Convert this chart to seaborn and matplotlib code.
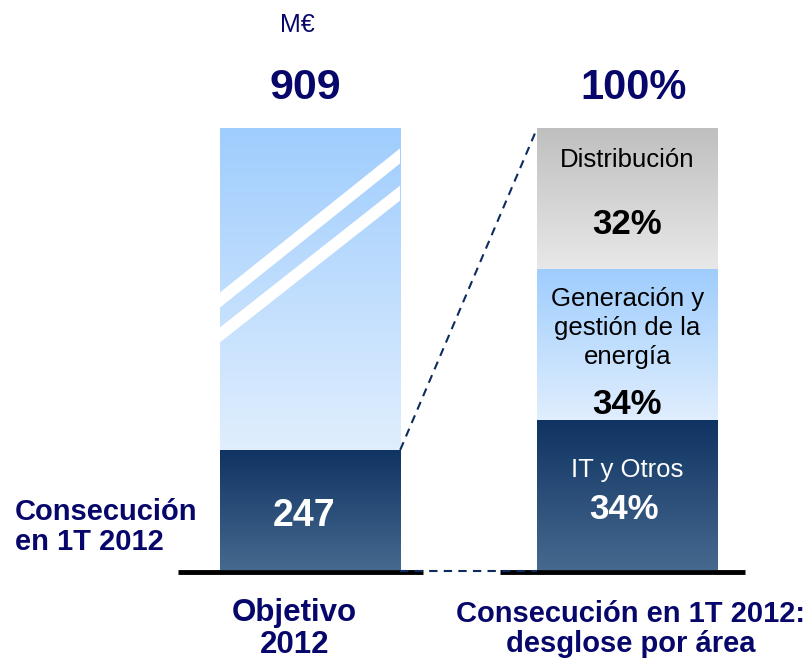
import numpy as np
import matplotlib
matplotlib.use("Agg")
import matplotlib.pyplot as plt
import seaborn as sns
from matplotlib.colors import LinearSegmentedColormap
from matplotlib.patches import Rectangle

# data
barras = ["Objetivo\n2012", "Consecución en 1T 2012:\ndesglose por área"]
objetivo_2012 = 909
consecucion_1t = 247
areas = ["IT y Otros", "Generación y\ngestión de la\nenergía", "Distribución"]
area_pct = [34, 34, 32]

logro_pct = consecucion_1t / objetivo_2012 * 100
# segments bottom -> top for each bar (in % of bar height)
left_seg = [logro_pct, 100 - logro_pct]
right_seg = area_pct

navy = "#07076b"
dark_grad = ("#0f3362", "#46698f")
blue_grad = ("#9fcdfe", "#e0eefd")
grey_grad = ("#bfbfbf", "#e8e8e8")
left_cols = [dark_grad, blue_grad]
right_cols = [dark_grad, blue_grad, grey_grad]

sns.set_style("white")
plt.rcParams["font.family"] = ["Liberation Sans", "DejaVu Sans"]
plt.rcParams["text.color"] = "black"

fig = plt.figure(figsize=(8.1, 6.65), dpi=100)
ax = fig.add_axes([0, 0.1429, 1, 0.6647])

# stacked bars: draw cumulative tops, tallest first
left_tops = np.cumsum(left_seg)
right_tops = np.cumsum(right_seg)
n_layers = max(len(left_tops), len(right_tops))
bw = 0.568
for k in range(n_layers - 1, -1, -1):
    h = [left_tops[k] if k < len(left_tops) else 0,
         right_tops[k] if k < len(right_tops) else 0]
    sns.barplot(x=barras, y=h, width=bw, color="#cccccc", ax=ax,
                linewidth=0, saturation=1)

# gradient fills over each segment
xs = {}
for p in ax.patches:
    if p.get_height() > 0:
        xs[round(p.get_x() + p.get_width() / 2)] = (p.get_x(), p.get_x() + p.get_width())
    p.set_alpha(0)

grad = np.linspace(0, 1, 256).reshape(-1, 1)
for i, (segs, cols) in enumerate([(left_seg, left_cols), (right_seg, right_cols)]):
    x0, x1 = xs[i]
    bottom = 0
    for s, (ctop, cbot) in zip(segs, cols):
        cmap = LinearSegmentedColormap.from_list("g", [ctop, cbot])
        ax.imshow(grad, cmap=cmap, aspect="auto", extent=(x0, x1, bottom, bottom + s),
                  origin="upper", zorder=2, interpolation="bilinear")
        bottom += s
ax.set_xlim(-0.978, 1.576)
ax.set_ylim(0, 100)

# break marks on target bar
lx0, lx1 = xs[0]
clip = Rectangle((lx0, 0), lx1 - lx0, 100, transform=ax.transData, visible=False)
ax.add_patch(clip)
for ya, yb in [(61.1, 93.7), (53.2, 85.3)]:
    slope = (yb - ya) / (lx1 - lx0)
    ln, = ax.plot([lx0 - 0.05, lx1 + 0.05], [ya - 0.05 * slope, yb + 0.05 * slope],
                  color="white", lw=8.5, solid_capstyle="butt", zorder=3)
    ln.set_clip_path(clip)

# connector lines
rx0, rx1 = xs[1]
ax.plot([lx1, rx0], [logro_pct, 100], ls=(0, (4, 3)), color="#0d2b5e", lw=1.5,
        zorder=4, clip_on=False)
ax.plot([lx1, rx0], [-0.3, -0.3], ls=(0, (4, 3)), color="#0d2b5e", lw=1.5,
        zorder=5, clip_on=False)

# baselines
ax.plot([-0.416, 0.356], [-0.5, -0.5], color="black", lw=3.5, zorder=4,
        clip_on=False, solid_capstyle="butt")
ax.plot([0.599, 1.372], [-0.5, -0.5], color="black", lw=3.5, zorder=4,
        clip_on=False, solid_capstyle="butt")

ax.set_axis_off()

# labels
def py(px):
    return (570 - px) / 4.42

ax.text(-0.04, py(25), "M€", ha="center", va="center", color=navy, fontsize=18)
ax.text(-0.015, py(88), f"{objetivo_2012}", ha="center", va="center", color=navy,
        fontsize=31, fontweight="bold")
ax.text(1.02, py(88), "100%", ha="center", va="center", color=navy,
        fontsize=30, fontweight="bold")
ax.text(-0.02, logro_pct * 0.45, f"{consecucion_1t}", ha="center", va="center",
        color="white", fontsize=27, fontweight="bold", zorder=6)
ax.text(-0.93, py(527), "Consecución\nen 1T 2012", ha="left", va="center", color=navy,
        fontsize=21, fontweight="bold", linespacing=1.1)

# area labels
ax.text(1, py(160), areas[2], ha="center", va="center", fontsize=18.5, zorder=6)
ax.text(1, py(225), f"{area_pct[2]}%", ha="center", va="center", fontsize=25,
        fontweight="bold", zorder=6)
ax.text(1, py(328), areas[1], ha="center", va="center", fontsize=18.5, zorder=6,
        linespacing=1.25)
ax.text(1, py(405), f"{area_pct[1]}%", ha="center", va="center", fontsize=25,
        fontweight="bold", zorder=6)
ax.text(1, py(470), areas[0], ha="center", va="center", fontsize=18.5, color="white", zorder=6)
ax.text(0.99, py(510), f"{area_pct[0]}%", ha="center", va="center", fontsize=25,
        color="white", fontweight="bold", zorder=6)

# category labels
ax.text(-0.05, py(629), barras[0], ha="center", va="center", color=navy, fontsize=22.5,
        fontweight="bold", linespacing=1.1)
ax.text(1.01, py(629), barras[1], ha="center", va="center", color=navy, fontsize=21,
        fontweight="bold", linespacing=1.1)

fig.savefig("out.png", dpi=100)
